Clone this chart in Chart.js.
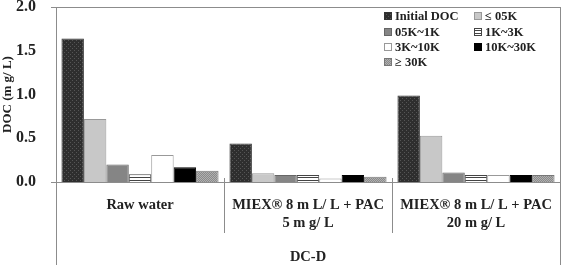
<!DOCTYPE html>
<html>
<head>
<meta charset="utf-8">
<script src="https://cdn.jsdelivr.net/npm/chart.js@4.4.0/dist/chart.umd.min.js"></script>
<style>
  html, body { margin: 0; padding: 0; background: #fff; }
  #wrap { width: 563px; height: 275px; position: relative; }
</style>
</head>
<body>
<div id="wrap"><canvas id="chart1"></canvas></div>
<script>
// data
var categories = [['Raw water'], ['MIEX® 8 m L/ L + PAC', '5 m g/ L'], ['MIEX® 8 m L/ L + PAC', '20 m g/ L']];
var seriesNames = ['Initial DOC', '≤ 05K', '05K~1K', '1K~3K', '3K~10K', '10K~30K', '≥ 30K'];
var initialDoc = [1.64, 0.44, 0.99];
var le05k = [0.72, 0.10, 0.53];
var k05to1 = [0.20, 0.08, 0.11];
var k1to3 = [0.09, 0.08, 0.08];
var k3to10 = [0.31, 0.04, 0.08];
var k10to30 = [0.17, 0.08, 0.08];
var ge30k = [0.13, 0.06, 0.08];
var yTicks = [0, 0.5, 1.0, 1.5, 2.0];

var FONT = "'Liberation Serif', 'Times New Roman', serif";

function makePattern(size, draw) {
    var c = document.createElement('canvas');
    c.width = size; c.height = size;
    var g = c.getContext('2d');
    draw(g, size);
    return g.createPattern(c, 'repeat');
}

var patDark = makePattern(4, function (g) {
    g.fillStyle = '#2e2e2e'; g.fillRect(0, 0, 4, 4);
    g.fillStyle = '#555';
    g.fillRect(0, 0, 1, 1); g.fillRect(2, 2, 1, 1);
});
var patStripes = makePattern(3, function (g) {
    g.fillStyle = '#fff'; g.fillRect(0, 0, 3, 3);
    g.fillStyle = '#444'; g.fillRect(0, 0, 3, 1);
});
var patDots = makePattern(2, function (g) {
    g.fillStyle = '#8a8a8a'; g.fillRect(0, 0, 2, 2);
    g.fillStyle = '#b0b0b0';
    g.fillRect(0, 0, 1, 1); g.fillRect(1, 1, 1, 1);
});

var values = [initialDoc, le05k, k05to1, k1to3, k3to10, k10to30, ge30k];
var fills = [patDark, '#c8c8c8', '#858585', patStripes, '#ffffff', '#000000', patDots];
var borders = ['#333', '#999', '#666', '#444', '#999', '#000', '#777'];

var datasets = seriesNames.map(function (n, i) {
    return {
        label: n,
        data: values[i],
        backgroundColor: fills[i],
        borderColor: borders[i],
        borderWidth: 1,
        categoryPercentage: 0.935,
        barPercentage: 1
    };
});

// frame, separators and legend
var framePlugin = {
    id: 'frame',
    afterDraw: function (chart) {
        var ctx = chart.ctx;
        var a = chart.chartArea;
        var n = categories.length;
        var w = (a.right - a.left) / n;
        ctx.save();
        ctx.strokeStyle = '#8c8c8c';
        ctx.lineWidth = 1;
        ctx.beginPath();
        ctx.moveTo(a.left - 5, a.top + 0.5); ctx.lineTo(a.right, a.top + 0.5);
        ctx.moveTo(a.left + 0.5, a.top); ctx.lineTo(a.left + 0.5, 265);
        ctx.moveTo(a.right + 0.5, a.top); ctx.lineTo(a.right + 0.5, 265);
        ctx.moveTo(a.left - 5, a.bottom + 0.5); ctx.lineTo(a.right, a.bottom + 0.5);
        for (var i = 1; i < n; i++) {
            var sx = Math.round(a.left + w * i) + 0.5;
            ctx.moveTo(sx, a.bottom - 4); ctx.lineTo(sx, 233);
        }
        ctx.stroke();

        // legend, two columns
        var cols = [384, 474];
        var rows = [16, 32, 47, 62];
        ctx.font = 'bold 12.5px ' + FONT;
        ctx.textBaseline = 'middle';
        chart.data.datasets.forEach(function (ds, i) {
            var cx = cols[i % 2], cy = rows[Math.floor(i / 2)];
            ctx.fillStyle = ds.backgroundColor;
            ctx.fillRect(cx, cy - 4, 8, 8);
            ctx.strokeStyle = ds.borderColor;
            ctx.strokeRect(cx + 0.5, cy - 3.5, 7, 7);
            ctx.fillStyle = '#222';
            ctx.fillText(ds.label, cx + 11, cy + 1);
        });
        ctx.restore();
    }
};

var ctx = document.getElementById('chart1').getContext('2d');
var myChart = new Chart(ctx, {
    type: 'bar',
    data: {
        labels: categories,
        datasets: datasets
    },
    options: {
        responsive: true,
        maintainAspectRatio: false,
        animation: false,
        layout: { padding: { top: 7, right: 3, left: 0, bottom: 0 } },
        plugins: {
            legend: { display: false },
            tooltip: { enabled: false }
        },
        scales: {
            x: {
                grid: { display: false },
                border: { display: false },
                ticks: {
                    color: '#222',
                    font: { family: FONT, size: 14.5, weight: 'bold' },
                    padding: 7,
                    maxRotation: 0,
                    autoSkip: false
                },
                title: {
                    display: true,
                    text: 'DC-D',
                    color: '#222',
                    font: { family: FONT, size: 14.5, weight: 'bold' },
                    padding: { top: 14, bottom: 9 }
                },
                afterFit: function (s) {
                    s.height = 93;
                    s.paddingLeft = 0; s.paddingRight = 0;
                }
            },
            y: {
                min: 0,
                max: 2,
                afterBuildTicks: function (s) {
                    s.ticks = yTicks.map(function (v) { return { value: v }; });
                },
                grid: { display: false },
                border: { display: false },
                ticks: {
                    color: '#222',
                    font: { family: FONT, size: 16, weight: 'bold' },
                    padding: 12,
                    callback: function (v) { return Number(v).toFixed(1); }
                },
                title: {
                    display: true,
                    text: 'DOC (m g/ L)',
                    color: '#222',
                    font: { family: FONT, size: 13, weight: 'bold' },
                    padding: { top: 0, bottom: 2 }
                },
                afterFit: function (s) {
                    s.width = 56;
                    s.paddingTop = 0; s.paddingBottom = 0;
                }
            }
        }
    },
    plugins: [framePlugin]
});
</script>
</body>
</html>
